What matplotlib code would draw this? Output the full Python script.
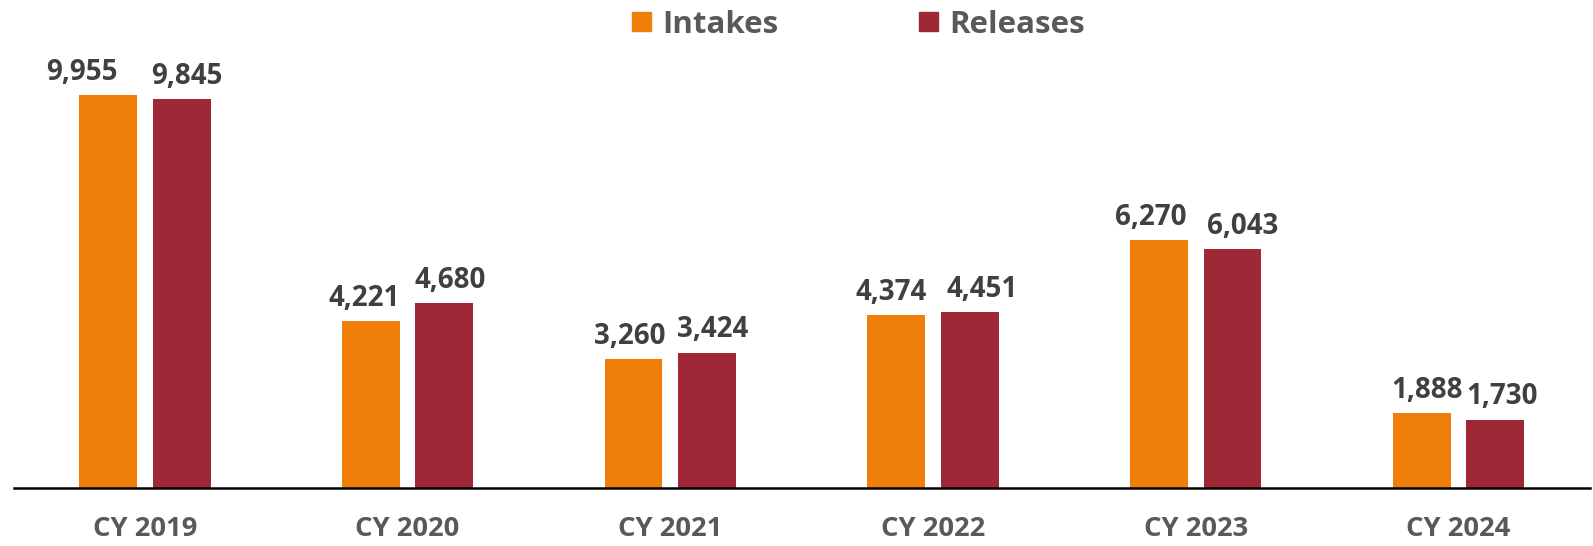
import matplotlib
matplotlib.use("Agg")
import matplotlib.pyplot as plt
from matplotlib.patches import Patch
import numpy as np

plt.rcParams["font.family"] = ["Open Sans", "DejaVu Sans"]

years = ["CY 2019", "CY 2020", "CY 2021", "CY 2022", "CY 2023", "CY 2024"]
intakes = [9955, 4221, 3260, 4374, 6270, 1888]
releases = [9845, 4680, 3424, 4451, 6043, 1730]

ORANGE = "#F07F09"
RED = "#9E2835"
LABEL_GRAY = "#404040"
TICK_GRAY = "#595959"

# label nudges (points) so neighbouring value labels don't collide
intake_dx = [-19, -5, -3, -4, -6, 4]
release_dx = [4, 4, 4, 9, 7, 5]

fig = plt.figure(figsize=(15.93, 5.46), dpi=100)
ax = fig.add_axes([0.0085, 0.1062, 0.9895, 0.868])

x = np.arange(len(years))
w = 0.22
off = 0.14
b1 = ax.bar(x - off, intakes, width=w, color=ORANGE)
b2 = ax.bar(x + off, releases, width=w, color=RED)

for bars, vals, dxs in [(b1, intakes, intake_dx), (b2, releases, release_dx)]:
    for bar, v, dx in zip(bars, vals, dxs):
        ax.annotate(f"{v:,}", (bar.get_x() + bar.get_width() / 2, v),
                    xytext=(dx, 6), textcoords="offset points",
                    ha="center", va="bottom", fontsize=20, fontweight="bold",
                    color=LABEL_GRAY)

ax.set_xlim(-0.5, len(years) - 0.5)
ax.set_ylim(0, 12000)
ax.set_xticks(x)
ax.set_xticklabels(years, fontsize=19.7, fontweight="bold", color=TICK_GRAY)
ax.tick_params(axis="x", length=0, pad=20)
ax.set_yticks([])
for s in ["top", "right", "left"]:
    ax.spines[s].set_visible(False)
ax.spines["bottom"].set_linewidth(1.8)
ax.spines["bottom"].set_color("black")

handles = [Patch(color=ORANGE, label="Intakes"), Patch(color=RED, label="Releases")]
leg = fig.legend(handles=handles, loc="center", bbox_to_anchor=(0.539, 0.955),
                 ncol=2, frameon=False, handlelength=0.6, handleheight=0.6,
                 handletextpad=0.36, columnspacing=4.5,
                 prop={"size": 22.5, "weight": "bold"})
for t in leg.get_texts():
    t.set_color(TICK_GRAY)

fig.savefig("out.png", dpi=100)
plt.close(fig)
